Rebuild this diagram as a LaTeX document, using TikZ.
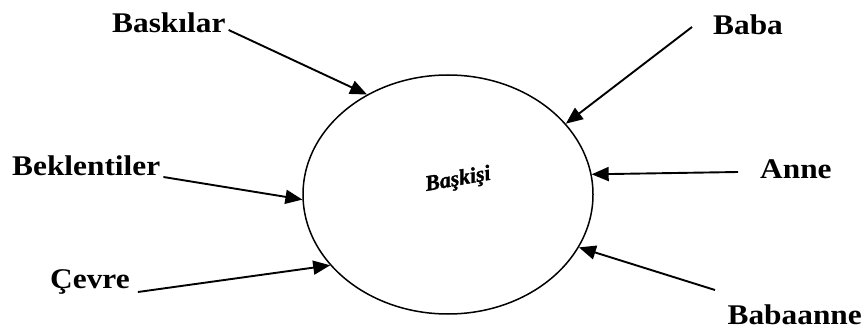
\documentclass[tikz,border=0pt]{standalone}
\usepackage{fontspec}
\setmainfont{Liberation Serif}[FakeStretch=1.1]
\newfontfamily\centerfont{Liberation Serif}[FakeBold=1.5]
\usetikzlibrary{arrows.meta,shapes.geometric}
\begin{document}
\begin{tikzpicture}[x=1pt,y=1pt,
  lbl/.style={font=\fontsize{28.5}{28.5}\selectfont\bfseries, inner sep=0pt},
  arr/.style={line width=1.9pt, -{Triangle[length=17pt,width=14pt]}},
  circ/.style={draw, ellipse, line width=1.5pt, minimum width=290pt, minimum height=239pt, inner sep=0pt}]
\useasboundingbox (0,0) rectangle (865,330);
\node[circ] (E) at (448,135.5) {};
\node[font=\centerfont\fontsize{22}{22}\selectfont\bfseries\itshape, rotate=10, inner sep=0pt] (C) at (458,150) {Başkişi};
\node[lbl, anchor=base west] (bask) at (112,297) {Baskılar};
\node[lbl, anchor=base west] (baba) at (713,295) {Baba};
\node[lbl, anchor=base west] (anne) at (760,152) {Anne};
\node[lbl, anchor=base west] (bek) at (12,155) {Beklentiler};
\node[lbl, anchor=base west] (cev) at (50,42) {Çevre};
\node[lbl, anchor=base east] (bab) at (862,6) {Babaanne};
\draw[arr] ([shift={(3pt,3pt)}]bask.base east) -- (E.129);
\draw[arr] ([shift={(-21pt,8pt)}]baba.base west) -- (E.31);
\draw[arr] ([shift={(-22pt,6pt)}]anne.base west) -- (E.8.5);
\draw[arr] ([shift={(3pt,-2pt)}]bek.base east) -- (E.182);
\draw[arr] ([shift={(8pt,-4pt)}]cev.base east) -- (E.211);
\draw[arr] ([shift={(-147pt,34pt)}]bab.base east) -- (E.338.6);
\end{tikzpicture}
\end{document}
